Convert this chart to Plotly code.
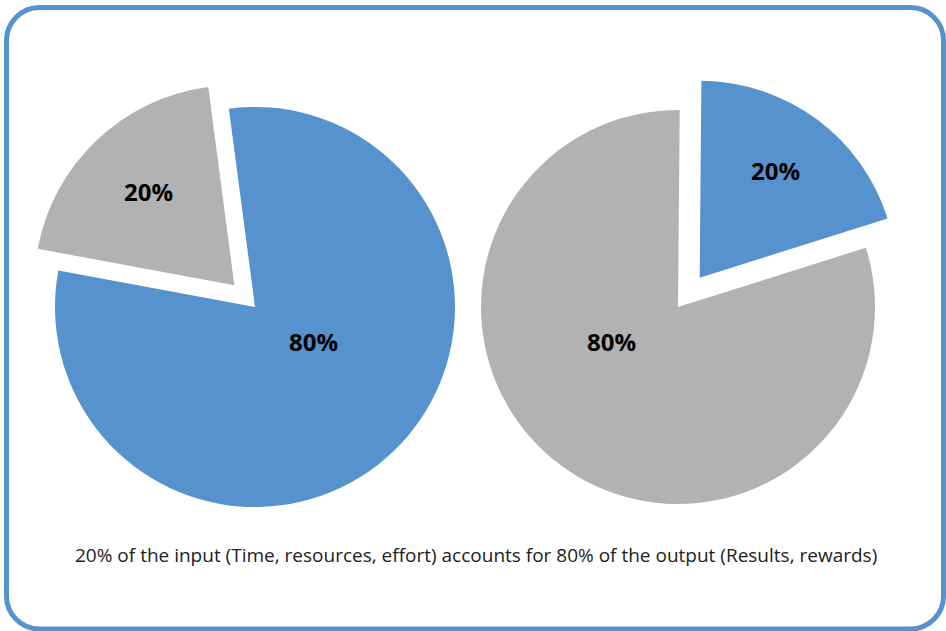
import plotly.graph_objects as go

W, H = 946, 631

# Pareto split: share of input vs. share of output
input_labels = ["Input 20%", "Input 80%"]
input_values = [20, 80]
output_labels = ["Output 20%", "Output 80%"]
output_values = [20, 80]
caption = "20% of the input (Time, resources, effort) accounts for 80% of the output (Results, rewards)"

BLUE = "#5592CE"
GRAY = "#B2B2B2"


def px_x(x):
    return x / W


def px_y(y):
    return 1 - y / H


def domain(cx, cy, half):
    return dict(x=[px_x(cx - half), px_x(cx + half)],
                y=[px_y(cy + half), px_y(cy - half)])


label_font = dict(family="Open Sans, Noto Sans, sans-serif", size=24, color="black", weight=700)

# pie geometry (pixels): centre, radius, start angle (deg clockwise from 12 o'clock),
# pull per slice and where each percentage label sits
pies = [
    dict(labels=input_labels, values=input_values, colors=[GRAY, BLUE],
         cx=255, cy=307, r=200, start=-79.5, pull=[0.15, 0],
         label_xy=[(148, 191), (313, 341)]),
    dict(labels=output_labels, values=output_values, colors=[BLUE, GRAY],
         cx=678, cy=307, r=197, start=0.5, pull=[0.185, 0],
         label_xy=[(775, 170), (611, 341)]),
]

fig = go.Figure()

for p in pies:
    half = p["r"] * (1 + max(p["pull"]))
    fig.add_trace(go.Pie(
        labels=p["labels"], values=p["values"], sort=False,
        direction="clockwise", rotation=p["start"],
        pull=p["pull"], marker=dict(colors=p["colors"], line=dict(width=0)),
        textinfo="none", domain=domain(p["cx"], p["cy"], half),
        showlegend=False, hoverinfo="label+value",
    ))
    total = sum(p["values"])
    for v, (lx, ly) in zip(p["values"], p["label_xy"]):
        fig.add_annotation(
            text=f"{v / total * 100:.0f}%", xref="paper", yref="paper",
            x=px_x(lx), y=px_y(ly), xanchor="center", yanchor="middle",
            showarrow=False, font=label_font,
        )

# rounded frame around the whole graphic
x0, y0, x1, y1, rr = 6.5, 7.5, 943.5, 629, 33
k = 0.5523 * rr
path = (
    f"M {px_x(x0 + rr)},{px_y(y0)} L {px_x(x1 - rr)},{px_y(y0)} "
    f"C {px_x(x1 - rr + k)},{px_y(y0)} {px_x(x1)},{px_y(y0 + rr - k)} {px_x(x1)},{px_y(y0 + rr)} "
    f"L {px_x(x1)},{px_y(y1 - rr)} "
    f"C {px_x(x1)},{px_y(y1 - rr + k)} {px_x(x1 - rr + k)},{px_y(y1)} {px_x(x1 - rr)},{px_y(y1)} "
    f"L {px_x(x0 + rr)},{px_y(y1)} "
    f"C {px_x(x0 + rr - k)},{px_y(y1)} {px_x(x0)},{px_y(y1 - rr + k)} {px_x(x0)},{px_y(y1 - rr)} "
    f"L {px_x(x0)},{px_y(y0 + rr)} "
    f"C {px_x(x0)},{px_y(y0 + rr - k)} {px_x(x0 + rr - k)},{px_y(y0)} {px_x(x0 + rr)},{px_y(y0)} Z"
)
fig.add_shape(type="path", path=path, xref="paper", yref="paper",
              line=dict(color=BLUE, width=5), fillcolor="rgba(0,0,0,0)", layer="above")

fig.add_annotation(
    text=caption, xref="paper", yref="paper", x=px_x(475.5), y=px_y(555),
    xanchor="center", yanchor="middle", showarrow=False,
    font=dict(family="Open Sans, sans-serif", size=19, color="#222222"),
)

fig.update_layout(
    width=W, height=H, margin=dict(l=0, r=0, t=0, b=0),
    paper_bgcolor="white", plot_bgcolor="white",
)

fig.write_html("out.html")
